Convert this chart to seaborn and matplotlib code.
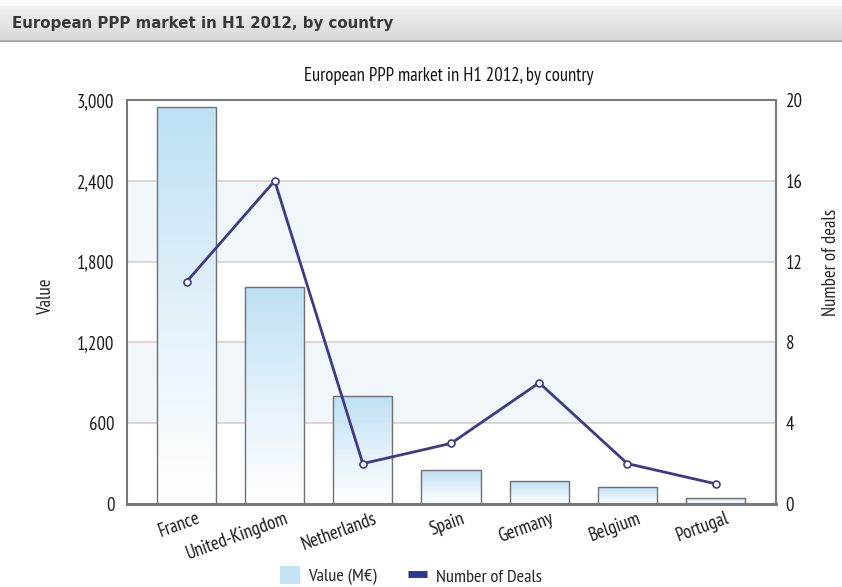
import numpy as np
import pandas as pd
import seaborn as sns
import matplotlib.pyplot as plt
import matplotlib.transforms as mtrans
from matplotlib.colors import LinearSegmentedColormap
from matplotlib.lines import Line2D
from matplotlib.patches import Patch

# data
countries = ["France", "United-Kingdom", "Netherlands", "Spain", "Germany", "Belgium", "Portugal"]
values = [2950, 1610, 800, 250, 170, 125, 45]
deals = [11, 16, 2, 3, 6, 2, 1]
value_ticks = [0, 600, 1200, 1800, 2400, 3000]
deal_ticks = [0, 4, 8, 12, 16, 20]
title = "European PPP market in H1 2012, by country"

df = pd.DataFrame({"country": countries, "value": values, "deals": deals})

sns.set_theme(style="white")
plt.rcParams["font.family"] = ["PT Sans Narrow", "Open Sans Condensed", "DejaVu Sans"]

W, H = 842, 587
fig = plt.figure(figsize=(W / 100, H / 100), dpi=100)

# header strip
hax = fig.add_axes([0, 1 - 42 / H, 1, 36 / H])
hgrad = np.linspace(0, 1, 64).reshape(-1, 1)
hax.imshow(hgrad, cmap=LinearSegmentedColormap.from_list("h", ["#f2f2f2", "#d6d6d6"]),
           aspect="auto", extent=[0, 1, 0, 1], origin="upper")
hax.axhline(0.02, color="#a8a8a8", lw=2)
hax.set_xlim(0, 1)
hax.set_ylim(0, 1)
hax.axis("off")
hax.text(12 / W, 0.52, title, fontsize=10.8, fontweight="bold", color="#383838",
         family=["DejaVu Sans"], va="center", ha="left")

# main axes
ax = fig.add_axes([127 / W, 1 - 504 / H, (776 - 127) / W, (504 - 100) / H])
for i, (lo, hi) in enumerate(zip(value_ticks[:-1], value_ticks[1:])):
    ax.axhspan(lo, hi, color="#f0f6fa" if i % 2 else "white", zorder=0, lw=0)
for t in value_ticks[1:-1]:
    ax.axhline(t, color="#dccccc", lw=1.2, zorder=1)

sns.barplot(data=df, x="country", y="value", ax=ax, color="#c3e2f5", width=0.67,
            edgecolor="#707070", linewidth=1, zorder=3)

grad_cmap = LinearSegmentedColormap.from_list("b", ["#ffffff", "#e2f1fb", "#bde0f4"])
grad = np.linspace(0, 1, 256).reshape(-1, 1)
for bar in ax.containers[0]:
    x0, y0 = bar.get_x(), bar.get_y()
    w, h = bar.get_width(), bar.get_height()
    im = ax.imshow(grad, cmap=grad_cmap, aspect="auto", origin="lower",
                   extent=[x0, x0 + w, y0, y0 + h], zorder=2.5)
    im.set_clip_path(bar)
    bar.set_facecolor("none")

ax2 = ax.twinx()
line_color = "#3d3a86"
sns.pointplot(data=df, x="country", y="deals", ax=ax2, color=line_color, errorbar=None,
              markers="o", markersize=5, markerfacecolor="white",
              markeredgecolor=line_color, markeredgewidth=1.2, linewidth=2)

ax.set_xlim(-0.675, 6.686)
ax.set_ylim(0, 3000)
ax.set_yticks(value_ticks)
ax.set_yticklabels([f"{v:,}" for v in value_ticks])
ax2.set_ylim(0, 20)
ax2.set_yticks(deal_ticks)
ax.set_xlabel("")
ax.set_ylabel("")
ax2.set_ylabel("")
ax.grid(False)
ax2.grid(False)

ax.tick_params(axis="y", length=0, pad=9, labelsize=13.5, labelcolor="#1a1a1a")
ax2.tick_params(axis="y", length=0, pad=7, labelsize=13.5, labelcolor="#1a1a1a")
ax.tick_params(axis="x", length=0, pad=4, labelsize=13.5, labelcolor="#1a1a1a")
shift = mtrans.ScaledTranslation(10 / 100, 0, fig.dpi_scale_trans)
for lab in ax.get_xticklabels():
    lab.set_rotation(20)
    lab.set_ha("right")
    lab.set_va("top")
    lab.set_rotation_mode("anchor")
    lab.set_transform(lab.get_transform() + shift)

for s in ax.spines.values():
    s.set_color("#7a7a7a")
    s.set_linewidth(1.5)
ax.spines["bottom"].set_linewidth(2.2)
for s in ax2.spines.values():
    s.set_visible(False)

fig.text(449 / W, 1 - 76 / H, title, fontsize=13.4, ha="center", va="center", color="#111111")
fig.text(46 / W, 1 - 297 / H, "Value", rotation=90, fontsize=13.5, ha="center", va="center")
fig.text(831 / W, 1 - 262 / H, "Number of deals", rotation=90, fontsize=13.5, ha="center", va="center")

handles = [Patch(facecolor="#c3e2f5", edgecolor="none"),
           Line2D([], [], color="#2b3990", lw=5, solid_capstyle="butt")]
fig.legend(handles, ["Value (M€)", "Number of Deals"], loc="center",
           bbox_to_anchor=(411 / W, 1 - 576 / H), ncol=2, frameon=False, fontsize=13.3,
           handlelength=1.05, handleheight=1.1, handletextpad=0.45, columnspacing=1.7,
           borderpad=0, borderaxespad=0)

fig.savefig("out.png", dpi=100)
